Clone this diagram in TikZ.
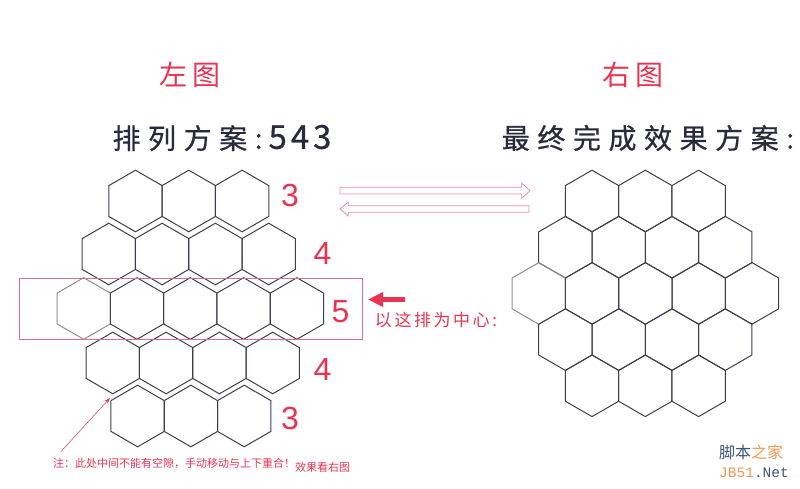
\documentclass[tikz,border=0pt]{standalone}
\usepackage{fontspec}
\setmainfont{Liberation Sans}
\newfontfamily\cjk{Noto Sans CJK SC}
\newfontfamily\cjkspace[LetterSpace=27,FakeBold=0.6]{Noto Sans CJK SC}
\newfontfamily\cjkdig[LetterSpace=12,FakeBold=0.6]{Noto Sans CJK SC}
\newfontfamily\cjkred[LetterSpace=15]{Noto Sans CJK SC}
\newfontfamily\wmono{Liberation Mono}
\usetikzlibrary{shapes.geometric,arrows.meta}
\definecolor{hexline}{RGB}{62,62,78}
\definecolor{hexgray}{RGB}{140,140,150}
\definecolor{redtxt}{RGB}{232,52,82}
\definecolor{pinkline}{RGB}{214,112,142}
\definecolor{pinkarrow}{RGB}{236,140,170}
\definecolor{darktxt}{RGB}{42,42,62}
\definecolor{wmblue}{RGB}{60,85,120}
\definecolor{wmorange}{RGB}{240,150,80}
\begin{document}
\begin{tikzpicture}[x=1pt,y=-1pt,
  hexa/.style={regular polygon,regular polygon sides=6,shape border rotate=30,
    minimum size=61.6pt,inner sep=0pt,draw=hexline,line width=1pt},
  hexb/.style={hexa,draw=hexgray},
  rednum/.style={text=redtxt,font=\fontsize{32}{34}\selectfont,inner sep=0pt},
  title/.style={text=darktxt,font=\cjkspace\fontsize{28}{30}\selectfont,inner sep=0pt},
  redtitle/.style={text=redtxt,font=\cjkred\fontsize{28}{30}\selectfont,inner sep=0pt},
  note/.style={text=redtxt,font=\cjk\fontsize{11}{12}\selectfont,inner sep=0pt},
  outarrow/.style={draw=pinkarrow,line width=0.8pt,line join=miter}
]
\useasboundingbox (0,0) rectangle (800,488);

% titles
\node[redtitle] (tl) at (190,75) {左图};
\node[redtitle] (tr) at (633,75) {右图};
\node[title] (sl) at (222,138) {排列方案:\hspace{6pt}{\cjkdig\fontsize{33}{34}\selectfont 543}};
\node[title] (sr) at (648,138) {最终完成效果方案:};

% left hexagons
\foreach \x [count=\i] in {135.5,188.8,242.1} \node[hexa] (la\i) at (\x,201) {};
\foreach \x [count=\i] in {108.8,162.1,215.4,268.7} \node[hexa] (lb\i) at (\x,254) {};
\node[hexb] (lc1) at (83.7,308.5) {};
\foreach \x [count=\i from 2] in {137,190.3,243.6,296.9} \node[hexa] (lc\i) at (\x,308.5) {};
\foreach \x [count=\i] in {112.8,166.1,219.4,272.7} \node[hexa] (ld\i) at (\x,363) {};
\foreach \x [count=\i] in {137.6,190.9,244.2} \node[hexa] (le\i) at (\x,416) {};

% row numbers
\node[rednum] (n1) at (290,195) {3};
\node[rednum] (n2) at (322.5,253) {4};
\node[rednum] (n3) at (340.5,312) {5};
\node[rednum] (n4) at (322.5,369) {4};
\node[rednum] (n5) at (290,418) {3};

% center row frame
\node[draw=pinkline,line width=0.8pt,inner sep=0pt,minimum width=343pt,minimum height=61pt] (frame) at (190.5,308.5) {};

% red arrow and label
\coordinate (ra1) at (405,299.5);
\coordinate (ra2) at (368,299.5);
\draw[redtxt,line width=5.5pt,-{Triangle[width=14pt,length=15pt]}] (ra1) -- (ra2);
\node[text=redtxt,font=\cjkred\fontsize{17}{18}\selectfont,inner sep=0pt] (center) at (436,320) {以这排为中心:};

% double outline arrows
\draw[outarrow] (340,187.3) -- (521.7,187.3) -- (521.7,183) -- (530,190.7) -- (521.7,198.4) -- (521.7,194) -- (340,194) -- cycle;
\draw[outarrow] (529,205.7) -- (348.3,205.7) -- (348.3,202) -- (340,209) -- (348.3,216) -- (348.3,212.3) -- (529,212.3) -- cycle;

% right honeycomb
\foreach \x [count=\i] in {592,645.3,698.6} \node[hexa] (ra\i) at (\x,201) {};
\foreach \x [count=\i] in {565.4,618.7,672,725.3} \node[hexa] (rb\i) at (\x,247.2) {};
\node[hexb] (rc1) at (538.8,293.4) {};
\foreach \x [count=\i from 2] in {592.1,645.4,698.7,752} \node[hexa] (rc\i) at (\x,293.4) {};
\foreach \x [count=\i] in {565.4,618.7,672,725.3} \node[hexa] (rd\i) at (\x,339.6) {};
\foreach \x [count=\i] in {592,645.3,698.6} \node[hexa] (re\i) at (\x,385.8) {};

% note
\coordinate (nstart) at (61,451.5);
\coordinate (nend) at (110,398);
\draw[redtxt,line width=0.5pt,-{Stealth[length=6pt,width=4pt]}] (nstart) -- (nend);
\node[note,anchor=west] (note1) at (53,463) {注：此处中间不能有空隙，手动移动与上下重合！};
\node[note,anchor=west] (note2) at (295,467) {效果看右图};

% watermark
\node[inner sep=0pt,anchor=west,font=\cjk\fontsize{16}{17}\selectfont] (wm1) at (719,452) {\textcolor{wmblue}{脚本}\textcolor{wmorange}{之家}};
\node[inner sep=0pt,anchor=west,font=\wmono\fontsize{14.5}{15}\selectfont] (wm2) at (719,473) {\textcolor{wmorange}{JB51}\textcolor{wmblue}{.Net}};
\end{tikzpicture}
\end{document}
